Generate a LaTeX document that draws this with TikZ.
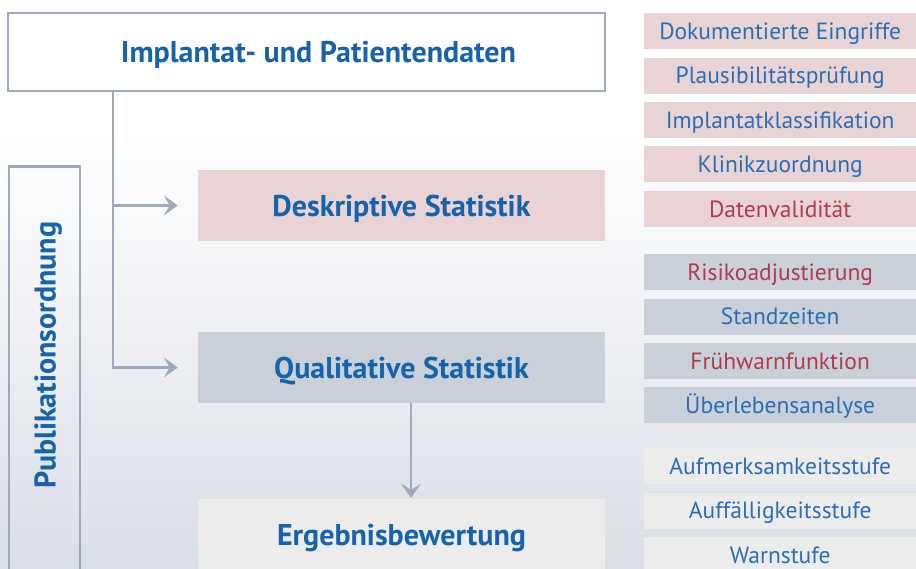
\documentclass[tikz,border=0pt]{standalone}
\usepackage{fontspec}
\setmainfont{PT Sans}
\usetikzlibrary{arrows.meta, positioning}

\definecolor{textblau}{HTML}{1662AB}
\definecolor{hellblau}{HTML}{2A6FB5}
\definecolor{textrot}{HTML}{B03A4E}
\definecolor{rosa}{HTML}{EAD3D4}
\definecolor{graublau}{HTML}{C9D0DA}
\definecolor{hellgrau}{HTML}{ECECEC}
\definecolor{linie}{HTML}{9DAABB}
\definecolor{grund}{HTML}{DADEE6}

\tikzset{
    titel/.style={font=\bfseries\fontsize{30}{30}\selectfont, text=textblau,
      text height=21pt, text depth=0pt},
    block/.style={titel, minimum width=407pt, minimum height=71pt, inner sep=0pt},
    rahmen/.style={draw=linie, line width=2.5pt},
    merkmal/.style={minimum width=272pt, minimum height=36pt, inner sep=0pt,
      anchor=north west, font=\fontsize{23.5}{23.5}\selectfont, text=hellblau,
      text height=16.5pt, text depth=0pt},
    pfeil/.style={draw=linie, line width=2.5pt,
      -{Stealth[length=14pt, width=20pt, inset=6pt]}}
  }

\begin{document}
\begin{tikzpicture}[x=1pt, y=-1pt]
            \clip (0,0) rectangle (916,568);
            % hintergrund
            \fill[white] (0,0) rectangle (916,130);
            \shade[top color=white, bottom color=grund] (0,130) rectangle (916,568);

            % linke spalte
            \node (daten) [rahmen, titel, fill=white, minimum width=597pt, minimum height=78pt,
              inner sep=0pt] at (306.5,52) {\hspace*{24pt}Implantat- und Patientendaten};
            \node (deskriptiv) [block, fill=rosa] at (401.5,205.5) {Deskriptive Statistik};
            \node (qualitativ) [block, fill=graublau] at (401.5,367.5) {Qualitative Statistik};
            \node (ergebnis) [block, fill=hellgrau] at (401.5,534.5) {Ergebnisbewertung};
            \node (ordnung) [rahmen, minimum width=71pt, minimum height=420pt, anchor=north] at (44.5,165) {};
            \node (ordnungtext) [titel, rotate=90] at (45,355) {Publikationsordnung};

            \coordinate (stamm) at (113,0);
            \draw[pfeil, shorten >=20pt] (daten.south -| stamm) |- (deskriptiv);
            \draw[pfeil, shorten >=20pt] (daten.south -| stamm) |- (qualitativ);
            \draw[pfeil, shorten >=1pt] ([xshift=9.5pt]qualitativ.south) -- ([xshift=9.5pt]ergebnis.north);

            % rechte spalte
            \node (eingriffe) [merkmal, fill=rosa] at (644,13) {Dokumentierte Eingriffe};
            \node (plausi) [merkmal, fill=rosa, below=8pt of eingriffe] {Plausibilitätsprüfung};
            \node (klasse) [merkmal, fill=rosa, below=8pt of plausi] {Implantatklassifikation};
            \node (klinik) [merkmal, fill=rosa, below=8pt of klasse] {Klinikzuordnung};
            \node (validitaet) [merkmal, fill=rosa, text=textrot, below=8pt of klinik] {Datenvalidität};

            \node (risiko) [merkmal, fill=graublau, text=textrot] at (644,254) {Risikoadjustierung};
            \node (standzeit) [merkmal, fill=graublau, below=8pt of risiko] {Standzeiten};
            \node (fruehwarn) [merkmal, fill=graublau, text=textrot, below=8pt of standzeit] {Frühwarnfunktion};
            \node (ueberleben) [merkmal, fill=graublau, below=8pt of fruehwarn] {Überlebensanalyse};

            \node (aufmerksam) [merkmal, fill=hellgrau] at (644,448) {Aufmerksamkeitsstufe};
            \node (auffaellig) [merkmal, fill=hellgrau, below=8pt of aufmerksam] {Auffälligkeitsstufe};
            \node (warn) [merkmal, fill=hellgrau, below=8pt of auffaellig] {Warnstufe};
        \end{tikzpicture}
\end{document}
